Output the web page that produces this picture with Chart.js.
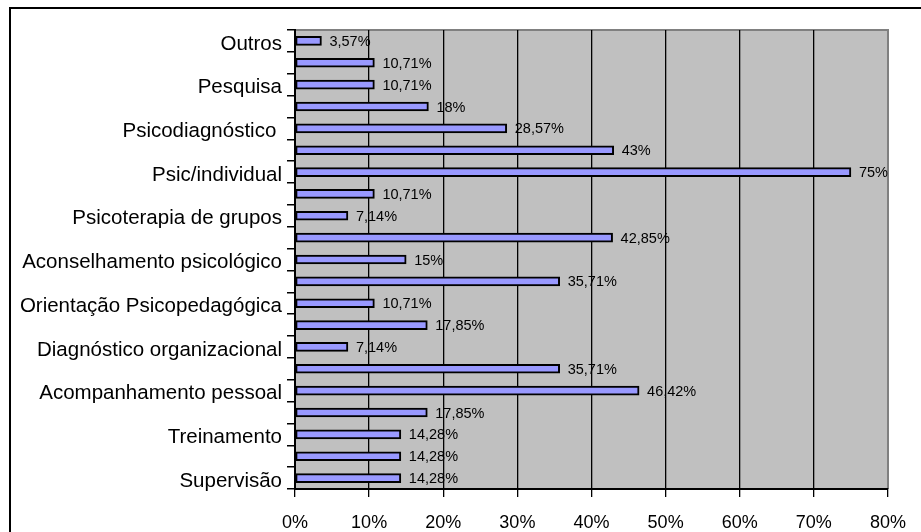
<!DOCTYPE html>
<html>
<head>
<meta charset="utf-8">
<script src="https://cdn.jsdelivr.net/npm/chart.js@4/dist/chart.umd.min.js"></script>
<style>
  body { margin: 0; background: #fff; }
  canvas { display: block; }
</style>
</head>
<body>
<canvas id="grafico" width="921" height="532"></canvas>
<script>
// Categorias (só metade das linhas tem nome visível no original)
const categorias = [
  "Outros", "", "Pesquisa", "", "Psicodiagnóstico ", "", "Psic/individual", "",
  "Psicoterapia de grupos", "", "Aconselhamento psicológico", "",
  "Orientação Psicopedagógica", "", "Diagnóstico organizacional", "",
  "Acompanhamento pessoal", "", "Treinamento", "", "Supervisão"
];
const percentuais = [
  3.57, 10.71, 10.71, 18, 28.57, 43, 75, 10.71,
  7.14, 42.85, 15, 35.71,
  10.71, 17.85, 7.14, 35.71,
  46.42, 17.85, 14.28, 14.28, 14.28
];
const ticksX = [0, 10, 20, 30, 40, 50, 60, 70, 80];

const fonte = "'Liberation Sans', Arial, sans-serif";

// fundo cinza da área do gráfico + moldura
const fundo = {
  id: "fundo",
  beforeDraw(chart) {
    const { ctx, chartArea: a } = chart;
    ctx.save();
    ctx.fillStyle = "#c0c0c0";
    ctx.fillRect(a.left, a.top, a.right - a.left, a.bottom - a.top);
    ctx.strokeStyle = "#808080";
    ctx.lineWidth = 2;
    ctx.beginPath();
    ctx.moveTo(a.left, a.top);
    ctx.lineTo(a.right, a.top);
    ctx.lineTo(a.right, a.bottom);
    ctx.stroke();
    // moldura externa
    ctx.strokeStyle = "#000";
    ctx.lineWidth = 2;
    ctx.beginPath();
    ctx.moveTo(10, 532);
    ctx.lineTo(10, 8);
    ctx.lineTo(921, 8);
    ctx.stroke();
    ctx.restore();
  }
};

// rótulos de valor à direita das barras
const rotulos = {
  id: "rotulos",
  afterDatasetsDraw(chart) {
    const { ctx } = chart;
    const meta = chart.getDatasetMeta(0);
    ctx.save();
    ctx.font = "14.5px " + fonte;
    ctx.fillStyle = "#000";
    ctx.textAlign = "left";
    ctx.textBaseline = "middle";
    meta.data.forEach((bar, i) => {
      const txt = String(percentuais[i]).replace(".", ",") + "%";
      ctx.fillText(txt, bar.x + 8, bar.y + 1);
    });
    ctx.restore();
  }
};

new Chart(document.getElementById("grafico"), {
  type: "bar",
  data: {
    labels: categorias,
    datasets: [{
      data: percentuais,
      backgroundColor: "#9999ff",
      borderColor: "#000",
      borderWidth: 2,
      borderSkipped: false,
      barThickness: 9
    }]
  },
  options: {
    indexAxis: "y",
    responsive: false,
    animation: false,
    events: [],
    layout: { padding: { top: 30, right: 32, bottom: 0, left: 0 } },
    plugins: { legend: { display: false }, tooltip: { enabled: false } },
    scales: {
      x: {
        min: 0,
        max: 80,
        afterBuildTicks(scale) { scale.ticks = ticksX.map(v => ({ value: v })); },
        afterFit(scale) { scale.height = 43; },
        border: { color: "#000", width: 2 },
        grid: {
          color: c => (c.tick && c.tick.value === 80 ? "#808080" : "#000"),
          lineWidth: 1.3,
          tickLength: 8,
          tickColor: "#000"
        },
        ticks: {
          color: "#000",
          font: { family: fonte, size: 18 },
          padding: 15,
          maxRotation: 0,
          callback: v => v + "%"
        }
      },
      y: {
        afterFit(scale) { scale.width = 295; },
        border: { color: "#000", width: 2 },
        grid: {
          drawOnChartArea: false,
          offset: true,
          tickLength: 8,
          tickColor: "#000",
          lineWidth: 1.5
        },
        ticks: {
          color: "#000",
          autoSkip: false,
          font: { family: fonte, size: 20.5 },
          padding: 5,
          labelOffset: 3
        }
      }
    }
  },
  plugins: [fundo, rotulos]
});
</script>
</body>
</html>
